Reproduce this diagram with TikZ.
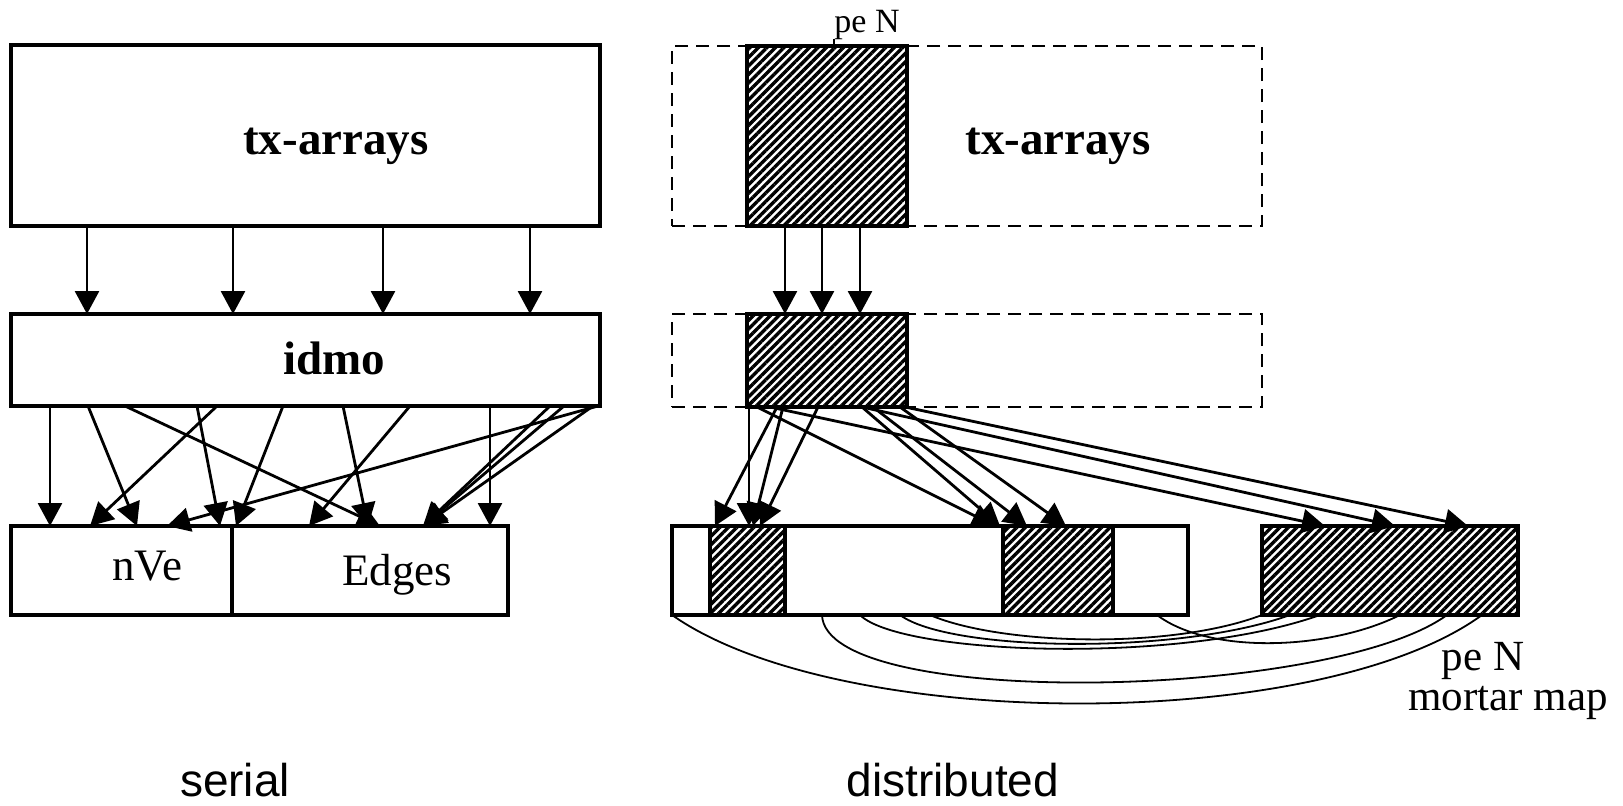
\documentclass[tikz,border=0pt]{standalone}
\usepackage{fontspec}
\setmainfont{Liberation Serif}
\setsansfont{Liberation Sans}
\usetikzlibrary{arrows.meta,patterns.meta}

\begin{document}
\begin{tikzpicture}[x=1pt,y=-1pt,
  box/.style={draw=black,line width=3.1pt,fill=white,inner sep=0pt,outer sep=0pt},
  dashbox/.style={draw=black,line width=2.8pt,dash pattern=on 13pt off 8pt,inner sep=0pt,outer sep=0pt},
  hatch/.style={draw=black,line width=3.1pt,inner sep=0pt,outer sep=0pt,
    pattern={Lines[angle=45,distance=6pt,line width=3.4pt]}},
  arr/.style={line width=2.8pt,-{Triangle[width=24pt,length=23pt]}},
  link/.style={line width=1.8pt},
  boldlbl/.style={font=\fontsize{47}{50}\selectfont\bfseries,inner sep=0pt,anchor=base},
  plainlbl/.style={font=\fontsize{45}{48}\selectfont,inner sep=0pt,anchor=base},
  smalllbl/.style={font=\fontsize{43}{46}\selectfont,inner sep=0pt,anchor=base},
  toplbl/.style={font=\fontsize{34}{36}\selectfont,inner sep=0pt,anchor=base},
  caption/.style={font=\sffamily\fontsize{46}{50}\selectfont,inner sep=0pt,anchor=base}]

\fill[white] (0,0) rectangle (1623,806);
\useasboundingbox (0,0) rectangle (1623,806);

% ---------------- serial layout ----------------
\node[box,minimum width=589pt,minimum height=181pt] (tx) at (305.5,135.5) {};
\node[box,minimum width=589pt,minimum height=92pt] (idmo) at (305.5,360) {};
\node[box,minimum width=221pt,minimum height=89pt] (nve) at (121.5,570.5) {};
\node[box,minimum width=276pt,minimum height=89pt] (edges) at (370,570.5) {};

\node[boldlbl] (txlbl) at (336,154) {tx-arrays};
\node[boldlbl] (idmolbl) at (334,374) {idmo};
\node[plainlbl] (nvelbl) at (147,580) {nVe};
\node[plainlbl] (edgeslbl) at (397,585) {Edges};

\foreach \xx in {87,233,383,530}
  \draw[arr] (\xx,0 |- tx.south) -- (\xx,0 |- idmo.north);

% idmo entries pointing into the vertex and edge arrays
\foreach \xa/\xb in {50/50, 88/137, 217/90, 197/220, 598/167}
  \draw[arr] (\xa,0 |- idmo.south) -- (\xb,0 |- nve.north);
\foreach \xa/\xb in {125/380, 283/236, 343/368, 410/309, 490/490, 550/423, 564/423, 593/423}
  \draw[arr] (\xa,0 |- idmo.south) -- (\xb,0 |- edges.north);

% ---------------- distributed layout ----------------
\node[dashbox,minimum width=590pt,minimum height=180pt] (dtx) at (967,136) {};
\node[hatch,minimum width=160pt,minimum height=180pt] (hat1) at (827,136) {};
\node[boldlbl] (dtxlbl) at (1058,154) {tx-arrays};
\node[toplbl] (petop) at (867,32) {pe N};
\coordinate (lead) at (834,39);
\draw[line width=1.4pt] (lead) -- (lead |- hat1.north);

\node[dashbox,minimum width=590pt,minimum height=93pt] (didmo) at (967,360.5) {};
\node[hatch,minimum width=160pt,minimum height=93pt] (hat2) at (827,360.5) {};

\foreach \xx in {785,822,860}
  \draw[arr] (\xx,0 |- hat1.south) -- (\xx,0 |- hat2.north);

\node[box,minimum width=516pt,minimum height=89pt] (bar) at (930,570.5) {};
\node[hatch,minimum width=75pt,minimum height=89pt] (hata) at (747.5,570.5) {};
\node[hatch,minimum width=110pt,minimum height=89pt] (hatb) at (1058,570.5) {};
\node[hatch,minimum width=256pt,minimum height=89pt] (rr) at (1390,570.5) {};

\foreach \xa/\xb in {749/749, 777/715, 783/753, 818/760, 757/995, 862/1000, 873/1027, 900/1066}
  \draw[arr] (\xa,0 |- hat2.south) -- (\xb,0 |- bar.north);
\foreach \xa/\xb in {770/1325, 862/1395, 905/1468}
  \draw[arr] (\xa,0 |- hat2.south) -- (\xb,0 |- rr.north);

% mortar map links under the arrays
\draw[link] (bar.south west) .. controls (840,733) and (1320,733) .. (1482,0 |- rr.south);
\draw[link] (822,0 |- bar.south) .. controls (825,710) and (1330,700) .. (1447,0 |- rr.south);
\draw[link] (860,0 |- bar.south) .. controls (900,655) and (1180,665) .. (1320,0 |- rr.south);
\draw[link] (900,0 |- bar.south) .. controls (950,652) and (1180,655) .. (1290,0 |- rr.south);
\draw[link] (930,0 |- bar.south) .. controls (1000,645) and (1170,650) .. (1262,0 |- rr.south);
\draw[link] (1157,0 |- bar.south) .. controls (1210,655) and (1330,650) .. (1400,0 |- rr.south);

\node[smalllbl] (pebot) at (1483,670) {pe N};
\node[smalllbl] (mortar) at (1508,710) {mortar map};

% ---------------- captions ----------------
\node[caption] (serial) at (235,796) {serial};
\node[caption] (distributed) at (953,796) {distributed};
\end{tikzpicture}
\end{document}
